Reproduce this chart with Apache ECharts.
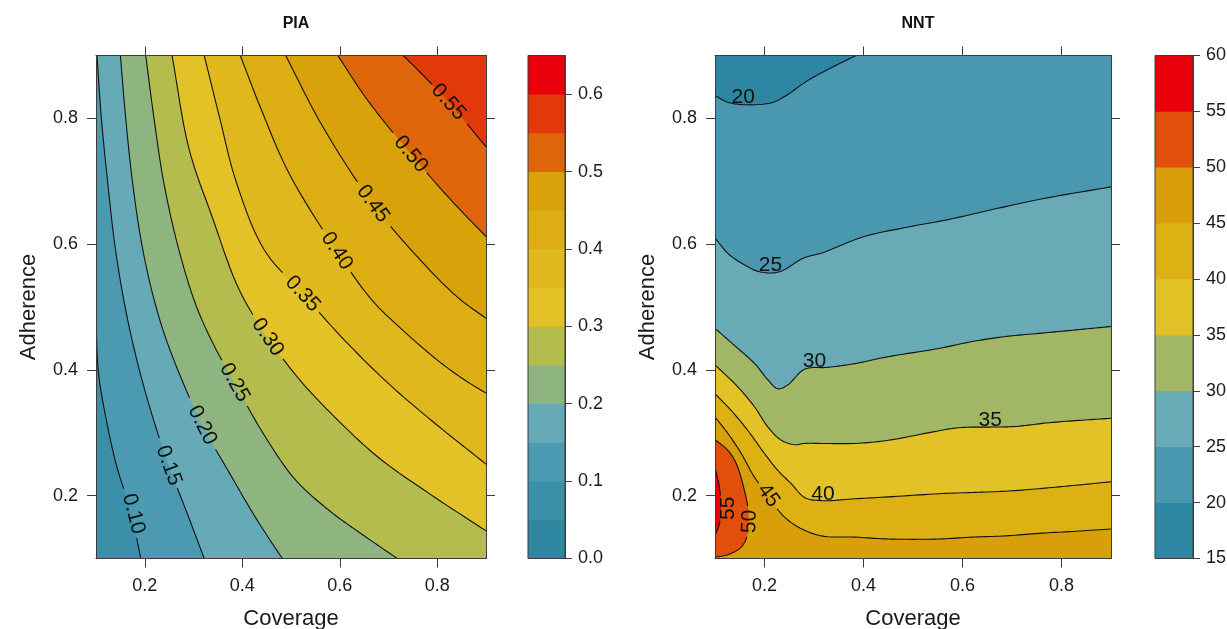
<!DOCTYPE html>
<html><head><meta charset="utf-8">
<script src="https://cdn.jsdelivr.net/npm/echarts@6/dist/echarts.min.js"></script>
<style>html,body{margin:0;padding:0;background:#fff}#c{width:1227px;height:629px}</style>
</head><body><div id="c"></div>
<script>
// ---------------- data ----------------
// axis tick labels
const axisTicks = [0.2, 0.4, 0.6, 0.8];
const piaBarTicks = [0.0, 0.1, 0.2, 0.3, 0.4, 0.5, 0.6];
const nntBarTicks = [15, 20, 25, 30, 35, 40, 45, 50, 55, 60];

// PIA contour levels and lines: [coverage, adherence]
const piaLevels = [0.10, 0.15, 0.20, 0.25, 0.30, 0.35, 0.40, 0.45, 0.50, 0.55];
const pia_010 = [[0.1,0.483],[0.105,0.396],[0.122,0.317],[0.142,0.248],[0.163,0.195],[0.181,0.141],[0.192,0.1]];
const pia_015 = [[0.102,0.9],[0.111,0.8],[0.124,0.698],[0.140,0.591],[0.161,0.495],[0.184,0.415],[0.212,0.336],[0.249,0.248],[0.285,0.176],[0.322,0.1]];
const pia_020 = [[0.150,0.9],[0.161,0.8],[0.175,0.698],[0.196,0.591],[0.225,0.495],[0.256,0.423],[0.318,0.312],[0.373,0.237],[0.429,0.163],[0.482,0.1]];
const pia_025 = [[0.202,0.9],[0.219,0.8],[0.239,0.698],[0.270,0.591],[0.305,0.503],[0.342,0.439],[0.384,0.380],[0.439,0.304],[0.507,0.227],[0.579,0.176],[0.641,0.141],[0.718,0.1]];
const pia_030 = [[0.256,0.9],[0.291,0.751],[0.338,0.644],[0.394,0.527],[0.452,0.452],[0.518,0.384],[0.600,0.317],[0.682,0.259],[0.786,0.202],[0.9,0.144]];
const pia_035 = [[0.322,0.9],[0.353,0.803],[0.388,0.698],[0.445,0.591],[0.524,0.521],[0.610,0.447],[0.703,0.376],[0.800,0.312],[0.9,0.250]];
const pia_040 = [[0.396,0.9],[0.439,0.814],[0.497,0.711],[0.594,0.589],[0.666,0.511],[0.738,0.457],[0.806,0.412],[0.854,0.385],[0.9,0.363]];
const pia_045 = [[0.489,0.9],[0.565,0.787],[0.668,0.664],[0.759,0.580],[0.841,0.516],[0.9,0.482]];
const pia_050 = [[0.596,0.9],[0.656,0.830],[0.746,0.743],[0.827,0.671],[0.9,0.612]];
const pia_055 = [[0.730,0.9],[0.759,0.878],[0.823,0.826],[0.9,0.755]];
const piaLabelAt = [[0.177,0.171],[0.249,0.248],[0.318,0.312],[0.384,0.380],[0.452,0.452],[0.524,0.521],[0.594,0.589],[0.668,0.664],[0.746,0.743],[0.823,0.826]];
const piaBreaks = [0.00,0.05,0.10,0.15,0.20,0.25,0.30,0.35,0.40,0.45,0.50,0.55,0.60,0.65];

// NNT contour levels and lines: [coverage, adherence]
const nntLevels = [20, 25, 30, 35, 40, 45, 50, 55];
const nnt_20 = [[0.385,0.9],[0.336,0.881],[0.287,0.860],[0.239,0.834],[0.210,0.824],[0.133,0.824],[0.1,0.836]];
const nnt_25 = [[0.9,0.691],[0.774,0.674],[0.677,0.658],[0.571,0.639],[0.482,0.626],[0.401,0.612],[0.316,0.586],[0.279,0.578],[0.230,0.556],[0.190,0.556],[0.153,0.570],[0.125,0.586],[0.1,0.610]];
const nnt_30 = [[0.9,0.469],[0.822,0.463],[0.754,0.458],[0.687,0.453],[0.619,0.445],[0.552,0.434],[0.450,0.421],[0.383,0.410],[0.328,0.404],[0.281,0.401],[0.247,0.376],[0.227,0.370],[0.207,0.384],[0.180,0.410],[0.139,0.439],[0.1,0.466]];
const nnt_35 = [[0.9,0.323],[0.842,0.320],[0.775,0.316],[0.707,0.310],[0.653,0.309],[0.592,0.308],[0.538,0.301],[0.450,0.288],[0.383,0.283],[0.315,0.283],[0.281,0.283],[0.261,0.281],[0.234,0.288],[0.207,0.309],[0.180,0.341],[0.146,0.373],[0.1,0.408]];
const nnt_40 = [[0.9,0.222],[0.822,0.216],[0.754,0.211],[0.687,0.207],[0.619,0.205],[0.552,0.203],[0.450,0.198],[0.383,0.195],[0.315,0.192],[0.281,0.197],[0.254,0.219],[0.227,0.240],[0.2,0.267],[0.166,0.304],[0.132,0.336],[0.1,0.362]];
const nnt_45 = [[0.9,0.147],[0.822,0.143],[0.754,0.140],[0.687,0.136],[0.619,0.134],[0.552,0.131],[0.450,0.131],[0.383,0.134],[0.315,0.136],[0.268,0.150],[0.234,0.171],[0.208,0.200],[0.180,0.229],[0.153,0.267],[0.126,0.299],[0.1,0.325]];
const nnt_50 = [[0.1,0.102],[0.126,0.106],[0.153,0.118],[0.166,0.139],[0.168,0.171],[0.161,0.203],[0.143,0.251],[0.126,0.272],[0.1,0.289]];
const nnt_55 = [[0.1,0.136],[0.109,0.155],[0.112,0.181],[0.109,0.213],[0.1,0.245]];
const nntLabelAt = [[0.157,0.824],[0.212,0.556],[0.301,0.403],[0.656,0.309],[0.318,0.192],[0.208,0.200],[0.170,0.159],[0.127,0.180]];
const nntBreaks = [15,20,25,30,35,40,45,50,55,60];

// ---------------- styles ----------------
const piaColors = ['#2e86a0','#3b8fa8','#4b9ab2','#66a9b7','#8eb47f','#b5bc4e','#e2c227','#dfb81d','#dcae13','#d9a20a','#df650b','#e2390b','#e8000b'];
const nntColors = ['#2e87a2','#4a98b0','#68aab6','#a2b765','#e2c227','#ddb014','#d99f0b','#e24f0b','#e8000b'];
const FONT = '"Liberation Sans", Arial, Helvetica, sans-serif';
const TXT = '#1a1a1a';
const FRAME = '#3c3c3c';
const BOX = {x0: 0.1, x1: 0.9, y0: 0.1, y1: 0.9};

const PIA = {levels: piaLevels, lines: [pia_010,pia_015,pia_020,pia_025,pia_030,pia_035,pia_040,pia_045,pia_050,pia_055],
  labels: piaLabelAt, breaks: piaBreaks, colors: piaColors, fmt: v => v.toFixed(2)};
const NNT = {levels: nntLevels, lines: [nnt_20,nnt_25,nnt_30,nnt_35,nnt_40,nnt_45,nnt_50,nnt_55],
  labels: nntLabelAt, breaks: nntBreaks, colors: nntColors, fmt: v => String(v)};

// ---------------- rendering helpers ----------------
function spline(pts, n) {
  const m = pts.length;
  if (m < 3) return pts.map(p => p.slice());
  const P = [[2*pts[0][0]-pts[1][0], 2*pts[0][1]-pts[1][1]]].concat(pts,
            [[2*pts[m-1][0]-pts[m-2][0], 2*pts[m-1][1]-pts[m-2][1]]]);
  const td = (a, b) => Math.max(Math.pow(Math.hypot(b[0]-a[0], b[1]-a[1]), 0.5), 1e-4);
  const lerp = (a, b, ta, tb, t) => { const u = (t-ta)/(tb-ta); return [a[0]+(b[0]-a[0])*u, a[1]+(b[1]-a[1])*u]; };
  const out = [];
  for (let i = 1; i < P.length - 2; i++) {
    const p0 = P[i-1], p1 = P[i], p2 = P[i+1], p3 = P[i+2];
    const t0 = 0, t1 = t0 + td(p0,p1), t2 = t1 + td(p1,p2), t3 = t2 + td(p2,p3);
    for (let j = 0; j < n; j++) {
      const t = t1 + (t2 - t1) * j / n;
      const A1 = lerp(p0,p1,t0,t1,t), A2 = lerp(p1,p2,t1,t2,t), A3 = lerp(p2,p3,t2,t3,t);
      const B1 = lerp(A1,A2,t0,t2,t), B2 = lerp(A2,A3,t1,t3,t);
      out.push(lerp(B1,B2,t1,t2,t));
    }
  }
  out.push(pts[m-1].slice());
  return out;
}
function perim(p) {
  const [x, y] = p, w = BOX.x1 - BOX.x0, h = BOX.y1 - BOX.y0, ex = w*0.01, ey = h*0.01;
  if (Math.abs(y - BOX.y0) < ey) return (x - BOX.x0) / w;
  if (Math.abs(x - BOX.x1) < ex) return 1 + (y - BOX.y0) / h;
  if (Math.abs(y - BOX.y1) < ey) return 2 + (BOX.x1 - x) / w;
  return 3 + (BOX.y1 - y) / h;
}
const CORNERS = [[BOX.x0,BOX.y0],[BOX.x1,BOX.y0],[BOX.x1,BOX.y1],[BOX.x0,BOX.y1]];
function closing(line) {
  const sEnd = perim(line[line.length-1]);
  let sStart = perim(line[0]);
  if (sStart <= sEnd) sStart += 4;
  const res = [];
  for (let k = Math.floor(sEnd) + 1; k <= Math.ceil(sStart) - 1; k++) res.push(CORNERS[k % 4]);
  return res;
}
function bandIndex(panel, lev) {
  return panel.breaks.findIndex(b => Math.abs(b - lev) < 1e-9);
}
function textWidth(t, fs) { let w = 0; for (const c of t) w += (c === '.' ? 0.278 : 0.556); return w * fs; }

function fillRender(panel) {
  return function (params, api) {
    const i = api.value(2);
    const line = panel.lines[i];
    const curve = spline(line.map(p => api.coord(p)), 10);
    const poly = curve.concat(closing(line).map(c => api.coord(c)));
    return {type: 'polygon', silent: true, shape: {points: poly},
      style: {fill: panel.colors[bandIndex(panel, panel.levels[i])], stroke: null}};
  };
}
function lineRender(panel) {
  return function (params, api) {
    const i = api.value(2);
    const curve = spline(panel.lines[i].map(p => api.coord(p)), 10);
    const la = api.coord(panel.labels[i]);
    let best = 0, bd = Infinity;
    curve.forEach((q, j) => { const d = (q[0]-la[0])**2 + (q[1]-la[1])**2; if (d < bd) { bd = d; best = j; } });
    const a = curve[Math.max(0, best-4)], b = curve[Math.min(curve.length-1, best+4)];
    let ang = Math.atan2(b[1]-a[1], b[0]-a[0]);
    if (ang > Math.PI/2 + 1e-6) ang -= Math.PI; else if (ang <= -Math.PI/2 + 1e-6) ang += Math.PI;
    const flat = Math.abs(ang) < 0.6;
    const text = panel.fmt(panel.levels[i]);
    const fs = 21;
    const r = textWidth(text, fs) / 2 + 3;
    const children = [];
    let seg = [];
    const pushSeg = () => { if (seg.length > 1) children.push({type: 'polyline', silent: true, shape: {points: seg},
      style: {stroke: '#111', lineWidth: 1.1, fill: null}}); seg = []; };
    curve.forEach(q => {
      if (!flat && Math.hypot(q[0]-la[0], q[1]-la[1]) < r) pushSeg(); else seg.push(q);
    });
    pushSeg();
    children.push({type: 'text', silent: true, x: la[0], y: flat ? la[1] + 4 : la[1], rotation: flat ? 0 : -ang,
      style: {text: text, fontSize: fs, fontFamily: FONT, fill: '#111', align: 'center', verticalAlign: flat ? 'bottom' : 'middle'}});
    return {type: 'group', children: children};
  };
}
function barRender(panel) {
  return function (params, api) {
    const k = api.value(2);
    const p1 = api.coord([0, panel.breaks[k+1]]), p2 = api.coord([1, panel.breaks[k]]);
    return {type: 'rect', silent: true, shape: {x: p1[0], y: p1[1] - 0.3, width: p2[0]-p1[0], height: p2[1]-p1[1] + 0.6},
      style: {fill: panel.colors[k]}};
  };
}
function barFrame(panel) {
  return function (params, api) {
    const n = panel.breaks.length;
    const p1 = api.coord([0, panel.breaks[n-1]]), p2 = api.coord([1, panel.breaks[0]]);
    return {type: 'rect', silent: true, shape: {x: p1[0], y: p1[1], width: p2[0]-p1[0], height: p2[1]-p1[1]},
      style: {fill: null, stroke: FRAME, lineWidth: 1}};
  };
}

// ---------------- axes ----------------
const lineStyle = {color: FRAME, width: 1};
function plotX(grid, pos) {
  return {type: 'value', gridIndex: grid, position: pos, min: BOX.x0, max: BOX.x1, z: 6,
    name: pos === 'bottom' ? 'Coverage' : '', nameLocation: 'middle', nameGap: 49,
    nameTextStyle: {fontSize: 22, fontFamily: FONT, color: TXT},
    axisLine: {show: true, onZero: false, lineStyle: lineStyle},
    axisTick: {show: true, inside: false, length: 9, customValues: axisTicks, lineStyle: lineStyle},
    axisLabel: {show: pos === 'bottom', customValues: axisTicks, formatter: v => (+v).toFixed(1), margin: 19,
      fontSize: 18, fontFamily: FONT, color: TXT},
    splitLine: {show: false}};
}
function plotY(grid, pos) {
  return {type: 'value', gridIndex: grid, position: pos, min: BOX.y0, max: BOX.y1, z: 6,
    name: pos === 'left' ? 'Adherence' : '', nameLocation: 'middle', nameGap: 56, nameRotate: 90,
    nameTextStyle: {fontSize: 22, fontFamily: FONT, color: TXT},
    axisLine: {show: true, onZero: false, lineStyle: lineStyle},
    axisTick: {show: true, inside: false, length: 9, customValues: axisTicks, lineStyle: lineStyle},
    axisLabel: {show: pos === 'left', customValues: axisTicks, formatter: v => (+v).toFixed(1), margin: 18,
      fontSize: 18, fontFamily: FONT, color: TXT},
    splitLine: {show: false}};
}
function barX(grid) { return {type: 'value', gridIndex: grid, min: 0, max: 1, show: false}; }
function barY(grid, breaks, ticks, fmt) {
  return {type: 'value', gridIndex: grid, position: 'right', min: breaks[0], max: breaks[breaks.length-1], z: 6,
    axisLine: {show: true, onZero: false, lineStyle: lineStyle},
    axisTick: {show: true, inside: false, length: 7, customValues: ticks, lineStyle: lineStyle},
    axisLabel: {show: true, customValues: ticks, formatter: fmt, margin: 13, fontSize: 18, fontFamily: FONT, color: TXT},
    splitLine: {show: false}};
}

const itemsOf = panel => panel.lines.map((l, i) => [panel.labels[i][0], panel.labels[i][1], i]);
const barItems = panel => panel.breaks.slice(0, -1).map((b, k) => [0.5, (b + panel.breaks[k+1]) / 2, k]);

const option = {
  animation: false,
  backgroundColor: '#ffffff',
  title: [
    {text: 'PIA', left: 291, top: 11, textAlign: 'center', textStyle: {fontSize: 16, fontWeight: 'bold', fontFamily: FONT, color: '#111'}},
    {text: 'NNT', left: 913, top: 11, textAlign: 'center', textStyle: {fontSize: 16, fontWeight: 'bold', fontFamily: FONT, color: '#111'}}
  ],
  grid: [
    {left: 96, top: 55.5, width: 390, height: 503, show: true, borderWidth: 0, containLabel: false, outerBoundsMode: 'none',
     backgroundColor: piaColors[bandIndex(PIA, piaLevels[0]) - 1]},
    {left: 528, top: 55.5, width: 37, height: 503, containLabel: false, outerBoundsMode: 'none'},
    {left: 715, top: 55.5, width: 396, height: 503, show: true, borderWidth: 0, containLabel: false, outerBoundsMode: 'none',
     backgroundColor: nntColors[bandIndex(NNT, nntLevels[0]) - 1]},
    {left: 1155, top: 55.5, width: 38, height: 503, containLabel: false, outerBoundsMode: 'none'}
  ],
  xAxis: [plotX(0, 'bottom'), plotX(0, 'top'), barX(1), plotX(2, 'bottom'), plotX(2, 'top'), barX(3)],
  yAxis: [plotY(0, 'left'), plotY(0, 'right'), barY(1, piaBreaks, piaBarTicks, v => (+v).toFixed(1)),
          plotY(2, 'left'), plotY(2, 'right'), barY(3, nntBreaks, nntBarTicks, v => String(v))],
  series: [
    {type: 'custom', xAxisIndex: 0, yAxisIndex: 0, clip: true, silent: true, z: 2, renderItem: fillRender(PIA), data: itemsOf(PIA)},
    {type: 'custom', xAxisIndex: 0, yAxisIndex: 0, clip: true, silent: true, z: 3, renderItem: lineRender(PIA), data: itemsOf(PIA)},
    {type: 'custom', xAxisIndex: 2, yAxisIndex: 2, silent: true, z: 2, renderItem: barRender(PIA), data: barItems(PIA)},
    {type: 'custom', xAxisIndex: 2, yAxisIndex: 2, silent: true, z: 4, renderItem: barFrame(PIA), data: [[0.5, 0.3, 0]]},
    {type: 'custom', xAxisIndex: 3, yAxisIndex: 3, clip: true, silent: true, z: 2, renderItem: fillRender(NNT), data: itemsOf(NNT)},
    {type: 'custom', xAxisIndex: 3, yAxisIndex: 3, clip: true, silent: true, z: 3, renderItem: lineRender(NNT), data: itemsOf(NNT)},
    {type: 'custom', xAxisIndex: 5, yAxisIndex: 5, silent: true, z: 2, renderItem: barRender(NNT), data: barItems(NNT)},
    {type: 'custom', xAxisIndex: 5, yAxisIndex: 5, silent: true, z: 4, renderItem: barFrame(NNT), data: [[0.5, 30, 0]]}
  ]
};
const chart = echarts.init(document.getElementById('c'), null, {renderer: 'canvas'});
chart.setOption(option);
</script></body></html>
